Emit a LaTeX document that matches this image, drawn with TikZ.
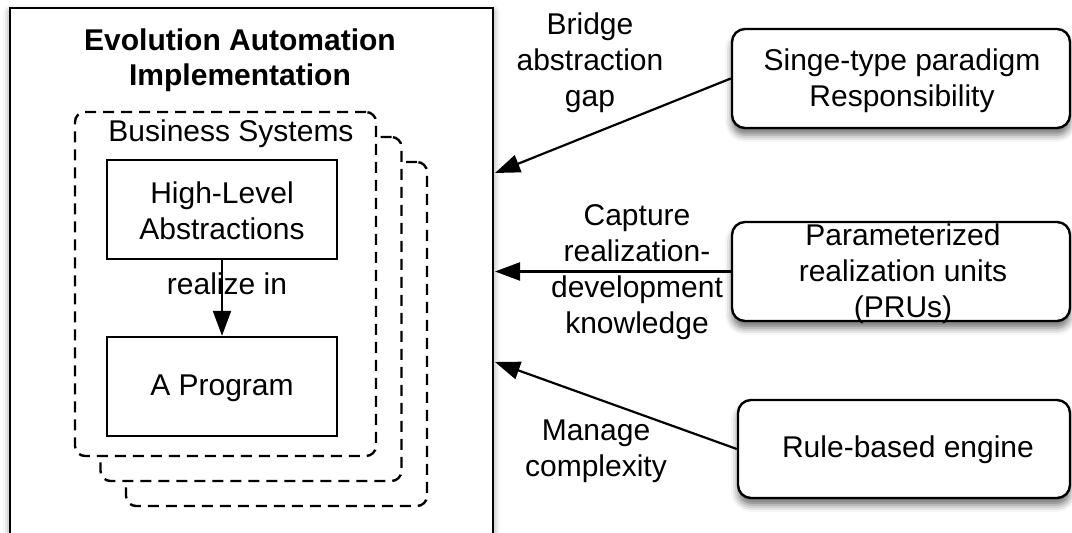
\documentclass[tikz,border=0pt]{standalone}
\usepackage{fontspec}
\setmainfont{Liberation Sans}
\usetikzlibrary{arrows.meta,shadows.blur}
\begin{document}
\begin{tikzpicture}[x=0.5pt,y=-0.5pt,
  txt/.style={font=\fontsize{15}{18}\selectfont, align=center, inner sep=0pt},
  solidbox/.style={draw, line width=1.2pt, fill=white, inner sep=0pt, minimum width=115pt, minimum height=49.5pt},
  dashbox/.style={draw, line width=1.2pt, dash pattern=on 5.5pt off 3.5pt, rounded corners=5pt, fill=white, inner sep=0pt, minimum width=150.5pt, minimum height=172pt},
  rbox/.style={draw, line width=1.2pt, rounded corners=6.5pt, fill=white, inner sep=0pt, minimum height=49.5pt,
     blur shadow={shadow xshift=0pt, shadow yshift=-3.5pt, shadow blur radius=3.5pt, shadow opacity=55}},
  arr/.style={-{Triangle[length=12.5pt,width=9pt]}, line width=1.1pt},
]
\useasboundingbox (0,0) rectangle (1072,533);
% outer implementation box
\node[draw, line width=1.2pt, fill=white, inner sep=0pt, minimum width=241.5pt, minimum height=276pt,
  blur shadow={shadow xshift=0pt, shadow yshift=-2pt, shadow blur radius=3.5pt, shadow opacity=45}] (impl) at (251.5,284) {};
\node[txt, font=\fontsize{15}{17.5}\selectfont\bfseries] (title) at (240,60.5) {Evolution Automation\\Implementation};
% stacked business systems
\node[dashbox] (bs3) at (276.5,334) {};
\node[dashbox] (bs2) at (251,309) {};
\node[dashbox] (bs1) at (225.5,284) {};
\node[txt] (bslabel) at (231,134) {Business Systems};
\node[solidbox] (hl) at (222,209.5) {};
\node[txt] (hltext) at (222,211) {High-Level\\Abstractions};
\node[solidbox] (ap) at (222,386.5) {};
\node[txt] (aptext) at (222,388) {A Program};
\node[txt] (realize) at (227,284) {realize in};
\draw[arr] (hl.south) -- (ap.north);
% right boxes
\node[rbox, minimum width=169pt] (b1) at (901,78.5) {};
\node[txt] (b1text) at (902,81) {Singe-type paradigm\\Responsibility};
\node[rbox, minimum width=169pt] (b2) at (901,271.5) {};
\node[txt] (b2text) at (903,274) {Parameterized\\realization units\\(PRUs)};
\node[rbox, minimum width=166pt, minimum height=49pt] (b3) at (904,449) {};
\node[txt] (b3text) at (908,450) {Rule-based engine};
% arrow ends on the implementation box
\coordinate (e1) at (495,173);
\coordinate (e2) at (495,271.5);
\coordinate (e3) at (495,362);
\draw[arr] (b1.west) -- (e1);
\draw[arr] (b2.west) -- (e2);
\draw[arr] (b3.west) -- (e3);
% edge labels
\node[txt] (l1) at (590,63) {Bridge\\abstraction\\gap};
\node[txt] (l2) at (637,272) {Capture\\realization-\\development\\knowledge};
\node[txt] (l3) at (596,451) {Manage\\complexity};
\end{tikzpicture}
\end{document}
